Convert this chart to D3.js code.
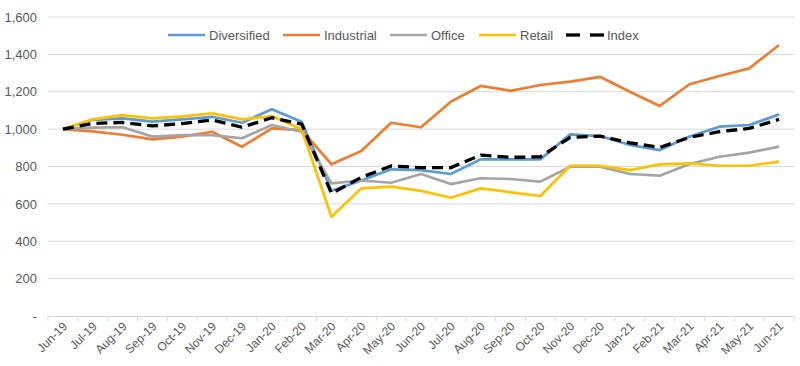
<!DOCTYPE html>
<html><head><meta charset="utf-8">
<script src="https://cdn.jsdelivr.net/npm/d3@7"></script>
<style>body{margin:0;background:#fff}svg{display:block}text{font-family:"Liberation Sans",Arial,sans-serif}</style>
</head><body><svg id="c" width="800" height="366"></svg>
<script>
const categories = ["Jun-19","Jul-19","Aug-19","Sep-19","Oct-19","Nov-19","Dec-19","Jan-20","Feb-20","Mar-20","Apr-20","May-20","Jun-20","Jul-20","Aug-20","Sep-20","Oct-20","Nov-20","Dec-20","Jan-21","Feb-21","Mar-21","Apr-21","May-21","Jun-21"];
const diversified = [1000,1050,1058,1040,1052,1066,1034,1106,1040,670,725,785,781,760,838,838,838,972,963,915,888,960,1013,1022,1079];
const industrial  = [1000,988,970,945,960,986,906,1004,995,812,883,1034,1010,1147,1231,1205,1236,1254,1280,1200,1124,1240,1284,1325,1450];
const office      = [1000,1008,1010,960,968,968,951,1022,986,710,725,713,760,706,737,733,719,799,799,760,751,813,852,874,906];
const retail      = [1000,1052,1075,1058,1068,1085,1052,1070,999,531,683,692,670,633,683,662,642,804,804,781,811,817,804,804,826];
const indexSeries = [1000,1030,1036,1017,1030,1049,1010,1061,1027,656,742,803,794,794,861,849,852,956,963,927,902,956,986,1004,1052];
const yTicks = [0,200,400,600,800,1000,1200,1400,1600];
const seriesNames = ["Diversified","Industrial","Office","Retail","Index"];
const seriesData = [diversified, industrial, office, retail, indexSeries];
const colors = ["#5B9BD5","#ED7D31","#A5A5A5","#FFC000","#000000"];

const svg = d3.select("#c");
const mLeft = 48, mRight = 794, mTop = 17, mBottom = 316;
const x = d3.scaleBand().domain(categories).range([mLeft, mRight]);
const y = d3.scaleLinear().domain([0,1600]).range([mBottom, mTop]);
const grey = "#d9d9d9", txt = "#595959";

// gridlines
svg.append("g").selectAll("line").data(yTicks.filter(d=>d>0)).join("line")
  .attr("x1", mLeft).attr("x2", mRight).attr("y1", d=>y(d)).attr("y2", d=>y(d))
  .attr("stroke", grey).attr("stroke-width", 1);

// y axis
const fmt = d3.format(",");
const yAxis = svg.append("g").attr("transform", `translate(${mLeft},0)`)
  .call(d3.axisLeft(y).tickValues(yTicks).tickSize(0).tickPadding(11).tickFormat(d => d === 0 ? "-" : fmt(d)));
yAxis.select(".domain").remove();
yAxis.selectAll("text").attr("fill", txt).attr("font-size", 13);

// x axis
const xAxis = svg.append("g").attr("transform", `translate(0,${mBottom})`)
  .call(d3.axisBottom(x).tickSize(0).tickFormat(d=>d));
xAxis.select(".domain").attr("stroke", grey);
xAxis.selectAll(".tick text").attr("fill", txt).attr("font-size", 12)
  .attr("text-anchor", "end").attr("dy", 0).attr("y", 0)
  .attr("transform", "translate(5,11) rotate(-45)");
// boundary ticks
const bounds = categories.map(c => x(c)).concat([mRight]);
xAxis.append("g").selectAll("line").data(bounds).join("line")
  .attr("x1", d=>d).attr("x2", d=>d).attr("y1", 0).attr("y2", 5).attr("stroke", grey);

// lines
const line = d3.line().x((d,i)=>x(categories[i]) + x.bandwidth()/2).y(d=>y(d));
seriesData.forEach((s, k) => {
  svg.append("path").datum(s).attr("d", line).attr("fill", "none")
    .attr("stroke", colors[k]).attr("stroke-width", k === 4 ? 3.3 : 2.7)
    .attr("stroke-linejoin", "round")
    .attr("stroke-dasharray", k === 4 ? "11,6" : null);
});

// legend
const legX = [168, 283, 390, 479, 566];
const lg = svg.append("g");
seriesNames.forEach((n, k) => {
  const g = lg.append("g").attr("transform", `translate(${legX[k]},35)`);
  if (k === 4) {
    g.append("line").attr("x1",0).attr("x2",14).attr("stroke","#000").attr("stroke-width",3.3);
    g.append("line").attr("x1",24).attr("x2",38).attr("stroke","#000").attr("stroke-width",3.3);
  } else {
    g.append("line").attr("x1",0).attr("x2",37).attr("stroke",colors[k]).attr("stroke-width",2.7);
  }
  g.append("text").attr("x", 41).attr("y", 4.5).attr("fill", txt).attr("font-size", 13).text(n);
});
</script></body></html>
